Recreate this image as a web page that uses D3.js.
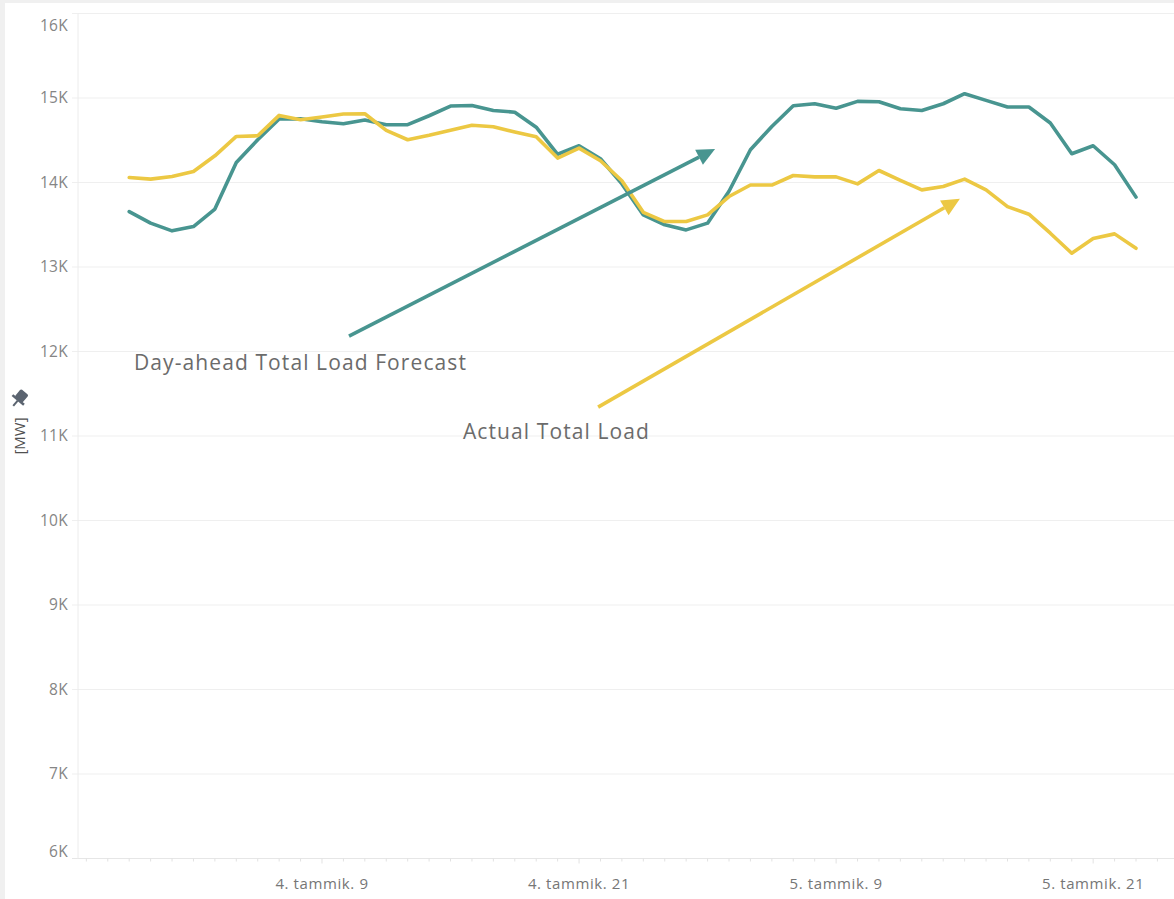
<!DOCTYPE html>
<html><head><meta charset="utf-8">
<script src="https://cdn.jsdelivr.net/npm/d3@7"></script>
<style>
html,body{margin:0;padding:0;background:#f0f0f0;}
svg{display:block;}
</style></head>
<body>
<svg id="chart" width="1174" height="899"></svg>
<script>
// ---- data ----
const startTime = new Date(2021, 0, 4, 0, 0); // 4. tammik. 00:00, hourly points
const forecast = [13656,13519,13428,13479,13685,14237,14506,14751,14755,14719,14695,14739,
  14684,14684,14790,14905,14911,14853,14832,14654,14334,14435,14281,13984,
  13617,13499,13439,13519,13896,14387,14663,14909,14932,14879,14960,14956,
  14873,14853,14932,15051,14972,14893,14893,14704,14340,14435,14210,13827];
const actual = [14059,14040,14071,14130,14316,14545,14553,14794,14743,14775,14810,14814,
  14616,14506,14559,14618,14678,14660,14598,14541,14289,14407,14257,14020,
  13647,13538,13538,13617,13834,13970,13970,14083,14067,14067,13984,14142,
  14026,13913,13952,14040,13913,13715,13625,13400,13163,13336,13392,13222];
const yTicks = [6000,7000,8000,9000,10000,11000,12000,13000,14000,15000,16000];
const yTickLabels = ["6K","7K","8K","9K","10K","11K","12K","13K","14K","15K","16K"];
const xTickHours = [9, 21, 33, 45];
const xTickLabels = ["4. tammik. 9","4. tammik. 21","5. tammik. 9","5. tammik. 21"];
const seriesNames = ["Day-ahead Total Load Forecast","Actual Total Load"];
const colors = ["#489590","#ecc843"];
// annotation anchors: [startHour, startValue, endHour, endValue]
const arrowForecast = [10.26, 12183, 27.35, 14396];
const arrowActual = [21.89, 11342, 38.78, 13807];
const labelForecast = [0.22, 11780];
const labelActual = [15.58, 10963];

// ---- helpers ----
const H = 3600e3;
const t = h => new Date(startTime.getTime() + h * H);

const svg = d3.select("#chart");
svg.append("rect").attr("x",5).attr("y",3).attr("width",1169).attr("height",896).attr("fill","#fff");

const x = d3.scaleTime().domain([t(-2.39), t(48.68)]).range([78, 1172]);
const y = d3.scaleLinear().domain([6000, 16000]).range([858.5, 13.5]);

// gridlines
svg.append("g").selectAll("line").data(yTicks).join("line")
  .attr("x1", 72).attr("x2", 1174)
  .attr("y1", d => y(d)).attr("y2", d => y(d))
  .attr("stroke", d => d === 6000 ? "#e6e6e6" : "#efefef").attr("stroke-width", 1);

// left axis line
svg.append("line").attr("x1",78).attr("x2",78).attr("y1",y(16000)).attr("y2",y(6000))
  .attr("stroke","#ececec");

// y labels
svg.append("g").selectAll("text").data(yTicks).join("text")
  .attr("x", 68).attr("y", d => y(d))
  .attr("dy", (d) => d === 16000 ? "1.1em" : d === 6000 ? "-0.12em" : "0.35em")
  .attr("text-anchor","end")
  .attr("font-family","'Open Sans', sans-serif").attr("font-size",15.5).attr("letter-spacing",0.3)
  .attr("fill","#858585")
  .text((d,i) => yTickLabels[i]);

// x axis hourly ticks
const hourTicks = d3.timeHour.range(t(-2), t(48.5));
svg.append("g").selectAll("line").data(hourTicks).join("line")
  .attr("x1", d => x(d)).attr("x2", d => x(d))
  .attr("y1", y(6000)).attr("y2", d => xTickHours.includes((d - startTime)/H) ? y(6000)+5 : y(6000)+3)
  .attr("stroke","#e2e2e2");

svg.append("g").selectAll("text").data(xTickHours).join("text")
  .attr("x", d => x(t(d))).attr("y", 889)
  .attr("text-anchor","middle")
  .attr("font-family","'Open Sans', sans-serif").attr("font-size",15).attr("letter-spacing",0.6)
  .attr("fill","#767676")
  .text((d,i) => xTickLabels[i]);

// y title
const yt = svg.append("g").attr("transform","translate(25,436) rotate(-90)");
yt.append("text").attr("text-anchor","middle")
  .attr("font-family","'Open Sans', sans-serif").attr("font-size",15).attr("fill","#505050")
  .text("[MW]");
// pin icon
const pin = svg.append("g").attr("transform","translate(19,399) rotate(40)").attr("fill","#5b6470");
pin.append("rect").attr("x",-5).attr("y",-9).attr("width",10).attr("height",10).attr("rx",1.5);
pin.append("rect").attr("x",-7.5).attr("y",0).attr("width",15).attr("height",2.5);
pin.append("rect").attr("x",-1).attr("y",2).attr("width",2).attr("height",7);

// lines
const line = d3.line().x((d,i) => x(t(i))).y(d => y(d));
[forecast, actual].forEach((s, k) => {
  svg.append("path").datum(s).attr("d", line)
    .attr("fill","none").attr("stroke", colors[k]).attr("stroke-width", 3.6)
    .attr("stroke-linejoin","round").attr("stroke-linecap","round");
});

// annotations
function arrow(a, color) {
  const x1 = x(t(a[0])), y1 = y(a[1]), x2 = x(t(a[2])), y2 = y(a[3]);
  const ang = Math.atan2(y2 - y1, x2 - x1);
  const L = 18, W = 8.5;
  const bx = x2 - L * Math.cos(ang), by = y2 - L * Math.sin(ang);
  svg.append("line").attr("x1",x1).attr("y1",y1).attr("x2",bx).attr("y2",by)
    .attr("stroke",color).attr("stroke-width",3.6);
  const px = -Math.sin(ang), py = Math.cos(ang);
  svg.append("path")
    .attr("d", `M${x2},${y2}L${bx + W*px},${by + W*py}L${bx - W*px},${by - W*py}Z`)
    .attr("fill", color);
}
arrow(arrowForecast, colors[0]);
arrow(arrowActual, colors[1]);

svg.append("text").attr("x", x(t(labelForecast[0]))).attr("y", y(labelForecast[1]))
  .attr("font-family","'Open Sans', sans-serif").attr("font-size",21).attr("letter-spacing",1.1)
  .attr("fill","#6b6b6b")
  .text(seriesNames[0]);
svg.append("text").attr("x", x(t(labelActual[0]))).attr("y", y(labelActual[1]))
  .attr("font-family","'Open Sans', sans-serif").attr("font-size",21).attr("letter-spacing",1.1)
  .attr("fill","#6b6b6b")
  .text(seriesNames[1]);
</script>
</body></html>
